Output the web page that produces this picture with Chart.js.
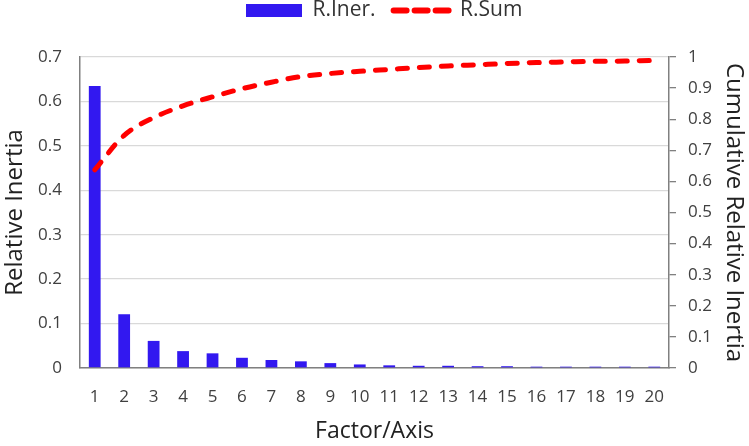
<!DOCTYPE html>
<html>
<head>
<meta charset="utf-8">
<script src="https://cdn.jsdelivr.net/npm/chart.js@4"></script>
<style>
  html, body { margin: 0; padding: 0; background: #fff; }
  #wrap { width: 749px; height: 446px; }
</style>
</head>
<body>
<div id="wrap"><canvas id="inertiaChart" width="749" height="446"></canvas></div>
<script>
// Relative inertia per factor + cumulative relative inertia
const factors = ['1', '2', '3', '4', '5', '6', '7', '8', '9', '10',
                 '11', '12', '13', '14', '15', '16', '17', '18', '19', '20'];
const relInertia = [0.635, 0.121, 0.061, 0.038, 0.033, 0.023, 0.018, 0.015, 0.011, 0.008,
                    0.006, 0.005, 0.005, 0.004, 0.004, 0.003, 0.003, 0.003, 0.003, 0.003];
const cumInertia = [0.637, 0.748, 0.805, 0.843, 0.872, 0.898, 0.919, 0.937, 0.947, 0.954,
                    0.960, 0.966, 0.971, 0.975, 0.979, 0.982, 0.984, 0.986, 0.987, 0.989];
const leftTicks = [0, 0.1, 0.2, 0.3, 0.4, 0.5, 0.6, 0.7];
const rightTicks = [0, 0.1, 0.2, 0.3, 0.4, 0.5, 0.6, 0.7, 0.8, 0.9, 1];

const FONT = '"Open Sans", "Noto Sans", sans-serif';
const BLUE = '#3218f0';
const RED = '#ff0000';
const legendFont = 21;
const legendPad = 18;

// move the legend to where the original sits (left of centre, near the top)
const legendPlace = {
    id: 'legendPlace',
    afterLayout(chart) {
        const lg = chart.legend;
        const dx = 246 - legendPad - lg.left;
        const dy = 10.5 - legendPad - legendFont / 2 - lg.top;
        lg.left += dx; lg.right += dx;
        lg.top += dy;
        lg.bottom = 40; // keep the clip box over the items
    }
};

const ctx = document.getElementById('inertiaChart').getContext('2d');
new Chart(ctx, {
    data: {
        labels: factors,
        datasets: [
            {
                type: 'bar',
                label: 'R.Iner.',
                data: relInertia,
                backgroundColor: BLUE,
                barPercentage: 0.5,
                categoryPercentage: 0.8,
                yAxisID: 'y',
                order: 2
            },
            {
                type: 'line',
                label: 'R.Sum',
                data: cumInertia,
                borderColor: RED,
                borderWidth: 5,
                borderDash: [10, 12],
                borderCapStyle: 'round',
                pointRadius: 0,
                cubicInterpolationMode: 'monotone',
                fill: false,
                yAxisID: 'y1',
                order: 1
            }
        ]
    },
    options: {
        responsive: false,
        animation: false,
        devicePixelRatio: 1,
        layout: { padding: 0 },
        plugins: {
            tooltip: { enabled: false },
            legend: {
                position: 'top',
                align: 'start',
                maxHeight: 30,
                labels: {
                    usePointStyle: true,
                    pointStyleWidth: 56,
                    boxHeight: 13,
                    padding: legendPad,
                    color: '#333',
                    font: { family: FONT, size: legendFont },
                    generateLabels: () => [
                        { text: 'R.Iner.', fillStyle: BLUE, strokeStyle: BLUE, lineWidth: 0,
                          fontColor: '#333', pointStyle: 'rect', datasetIndex: 0 },
                        { text: 'R.Sum', fillStyle: RED, strokeStyle: RED, lineWidth: 6,
                          fontColor: '#333', lineDash: [13, 8], lineCap: 'round',
                          pointStyle: 'line', datasetIndex: 1 }
                    ]
                }
            }
        },
        scales: {
            x: {
                type: 'category',
                offset: true,
                grid: { display: false, drawTicks: false },
                border: { color: '#808080', width: 1.5 },
                ticks: { color: '#404040', padding: 19, font: { family: FONT, size: 17 } },
                title: {
                    display: true, text: 'Factor/Axis', color: '#222',
                    font: { family: FONT, size: 23 }, padding: { top: 0, bottom: 1 }
                },
                afterFit(scale) { scale.height = 78; }
            },
            y: {
                position: 'left',
                min: 0, max: 0.7,
                afterBuildTicks(scale) { scale.ticks = leftTicks.map(v => ({ value: v })); },
                grid: { color: '#d9d9d9', lineWidth: 1.3, drawTicks: false },
                border: { color: '#808080', width: 1.5 },
                ticks: { color: '#404040', padding: 18, font: { family: FONT, size: 17 },
                         callback: v => String(+v.toFixed(1)) },
                title: {
                    display: true, text: 'Relative Inertia', color: '#222',
                    font: { family: FONT, size: 24 }, padding: { top: 1, bottom: 0 }
                },
                afterFit(scale) { scale.width = 80; scale.paddingTop = 57; }
            },
            y1: {
                position: 'right',
                min: 0, max: 1,
                afterBuildTicks(scale) { scale.ticks = rightTicks.map(v => ({ value: v })); },
                grid: { drawOnChartArea: false, drawTicks: true, tickLength: 7, color: '#808080', lineWidth: 1.3 },
                border: { color: '#808080', width: 1.5 },
                ticks: { color: '#404040', padding: 12, font: { family: FONT, size: 17 },
                         callback: v => String(+v.toFixed(1)) },
                title: {
                    display: true, text: 'Cumulative Relative Inertia', color: '#222',
                    font: { family: FONT, size: 24 }, padding: { top: 1, bottom: 0 }
                },
                afterFit(scale) { scale.width = 80; scale.paddingTop = 57; }
            }
        }
    },
    plugins: [legendPlace]
});
</script>
</body>
</html>
